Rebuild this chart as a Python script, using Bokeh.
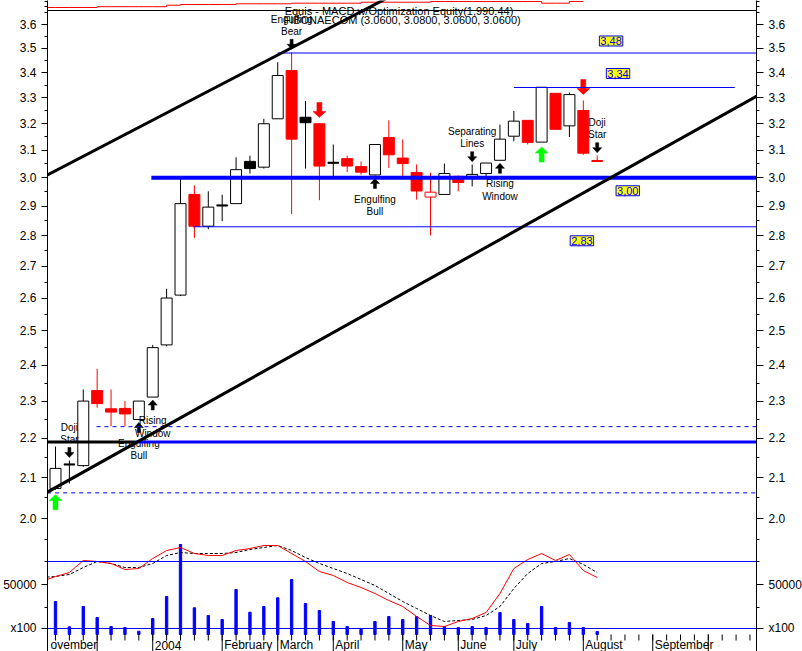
import math
from bokeh.plotting import figure
from bokeh.models import (Range1d, LinearScale, LogAxis, FixedTicker,
                          PrintfTickFormatter, Label, Span)
from bokeh.core.properties import value
from bokeh.embed import file_html
from bokeh.resources import INLINE

FONT = "Liberation Sans"
RED = "#FF0000"
BLUE = "#0000FF"
GREEN = "#00FF00"

# ---------------- weekly data (index 0 = first week shown, Nov 2003) ----------------
week = list(range(40))
opens  = [2.073, 2.133, 2.130, 2.329, 2.279, 2.280, 2.250, 2.311, 2.459, 2.609,
          2.941, 2.832, 2.903, 2.909, 3.059, 3.038, 3.218, 3.408, 3.224, 3.199,
          3.054, 3.069, 3.040, 3.010, 3.147, 3.071, 3.019, 2.932, 2.941, 3.005,
          3.005, 3.015, 3.063, 3.152, 3.212, 3.130, 3.317, 3.191, 3.250, 3.060]
highs  = [2.179, 2.143, 2.332, 2.390, 2.332, 2.300, 2.300, 2.459, 2.629, 3.000,
          2.973, 2.952, 2.940, 3.074, 3.080, 3.218, 3.442, 3.483, 3.287, 3.200,
          3.121, 3.080, 3.059, 3.121, 3.212, 3.140, 3.048, 3.018, 3.051, 3.008,
          3.047, 3.053, 3.196, 3.248, 3.212, 3.341, 3.317, 3.320, 3.289, 3.080]
lows   = [2.070, 2.085, 2.127, 2.282, 2.232, 2.232, 2.250, 2.311, 2.455, 2.606,
          2.793, 2.822, 2.849, 2.909, 3.015, 3.033, 3.218, 2.873, 3.033, 2.921,
          3.005, 3.020, 3.011, 3.008, 3.035, 3.005, 2.923, 2.801, 2.941, 2.952,
          2.969, 3.000, 3.063, 3.133, 3.121, 3.130, 3.178, 3.149, 3.083, 3.060]
closes = [2.123, 2.133, 2.300, 2.293, 2.270, 2.265, 2.300, 2.451, 2.600, 2.909,
          2.832, 2.897, 2.903, 3.029, 3.033, 3.199, 3.388, 3.141, 3.203, 3.042,
          3.054, 3.042, 3.020, 3.121, 3.083, 3.051, 2.953, 2.949, 3.015, 2.983,
          3.012, 3.053, 3.141, 3.209, 3.129, 3.341, 3.178, 3.312, 3.089, 3.060]
volume = [33000, 7700, 28000, 17000, 8000, 7000, 3300, 16000, 38000, 90000,
          26700, 19000, 15000, 45000, 22300, 28000, 36700, 55000, 31000, 24000,
          13000, 8000, 5300, 13000, 18000, 15000, 18000, 19000, 8000, 7000,
          8000, 7000, 22000, 15000, 11000, 28000, 7000, 12000, 7000, 3000]

macd_week = list(range(-1, 40))
macd_line = [0.053, 0.058, 0.062, 0.074, 0.073, 0.071, 0.065, 0.066, 0.076, 0.084,
             0.087, 0.081, 0.079, 0.079, 0.084, 0.086, 0.089, 0.089, 0.081, 0.073,
             0.063, 0.059, 0.052, 0.047, 0.041, 0.034, 0.028, 0.018, 0.009, 0.008,
             0.013, 0.016, 0.022, 0.041, 0.066, 0.075, 0.081, 0.074, 0.080, 0.064,
             0.057]
macd_signal = [0.057, 0.058, 0.060, 0.067, 0.073, 0.071, 0.067, 0.067, 0.071, 0.079,
               0.082, 0.081, 0.081, 0.081, 0.082, 0.085, 0.087, 0.089, 0.084, 0.077,
               0.071, 0.066, 0.061, 0.055, 0.049, 0.041, 0.033, 0.026, 0.019, 0.013,
               0.014, 0.015, 0.019, 0.028, 0.046, 0.061, 0.071, 0.073, 0.076, 0.070,
               0.062]
macd_levels = [0.073, 0.006]

equity_week = list(range(39))
equity = [1000, 1000, 1000, 1132, 1132, 1132, 1132, 1132, 1380, 1495,
          1495, 1495, 1495, 1610, 1610, 1610, 1610, 1710, 1710, 1710,
          1710, 1710, 1875, 1875, 1875, 1875, 1875, 1990.44, 1990.44, 1990.44,
          1990.44, 1990.44, 1990.44, 1990.44, 1990.44, 1710, 1710, 1990.44, 1990.44]

# ---------------- axis ticks / labels ----------------
month_ticks = [3, 7, 12, 16, 20, 25, 29, 33, 38, 43, 47]
week_ticks = [0, 1, 2, 3, 4, 5, 6, 7, 8, 9, 10, 11, 12, 13, 14, 15, 16, 17, 18, 19,
              20, 21, 22, 23, 24, 25, 26, 27, 28, 29, 30, 31, 32, 33, 34, 35, 36,
              37, 38, 39, 40, 41, 42, 43, 44, 45, 46, 47, 48, 49, 50]
month_label_pos = [-0.5, 7, 12, 16, 20, 25, 29, 33, 38, 43]
month_labels = ["ovember", "2004", "February", "March", "April", "May", "June",
                "July", "August", "September"]
price_ticks = [2.0, 2.1, 2.2, 2.3, 2.4, 2.5, 2.6, 2.7, 2.8, 2.9, 3.0, 3.1,
               3.2, 3.3, 3.4, 3.5, 3.6]
price_minor = [1.8, 1.9, 1.95, 2.05, 2.15, 2.25, 2.35, 2.45, 2.55, 2.65,
               2.75, 2.85, 2.95, 3.05, 3.15, 3.25, 3.35, 3.45, 3.55, 3.65, 3.68, 3.7]
vol_label_value = 50000
vol_unit_value = 6500

# ---------------- drawn studies ----------------
level_values = [3.48, 3.34, 3.00, 2.83, 2.231, 2.191, 2.191, 2.062]
level_start = [16.0, 33.0, 6.9, 9.9, 2.95, -0.6, 5.7, -0.6]
level_end = [50.6, 48.9, 50.6, 50.6, 50.6, 5.7, 50.6, 50.6]
level_color = [BLUE, BLUE, BLUE, BLUE, BLUE, "black", BLUE, BLUE]
level_width = [1, 1, 4, 1, 1, 3, 3, 1]
level_dash = ["solid", "solid", "solid", "solid", "4 4", "solid", "solid", "4 4"]

tag_text = ["3,48", "3,34", "3,00", "2,83"]
tag_level = [3.48, 3.34, 3.00, 2.83]
tag_week = [40.0, 40.5, 41.2, 37.9]
tag_shift = [12, 14, -13, -14]

trend_upper_x = [-0.58, 30.0]
trend_upper_y = [3.010, 3.916]
trend_lower_x = [-0.58, 50.6]
trend_lower_y = [2.064, 3.309]

sig_week = [0, 1, 6, 7, 17, 19, 23, 30, 32, 35, 38, 39]
sig_dir = ["up", "down", "up", "up", "down", "down", "up", "down", "up", "up", "down", "down"]
sig_kind = ["green", "black", "black", "black", "black", "red", "black", "black",
            "black", "green", "red", "black"]
sig_text = [[], ["Doji", "Star"], ["Engulfing", "Bull"], ["Rising", "Window"],
            ["Engulfing", "Bear"], [], ["Engulfing", "Bull"], ["Separating", "Lines"],
            ["Rising", "Window"], [], [], ["Doji", "Star"]]

title_1 = "Equis - MACD  w/Optimization Equity(1,990.44)"
title_2 = "FIBONAECOM (3.0600, 3.0800, 3.0600, 3.0600)"

# ---------------- geometry ----------------
FRAME_W, FRAME_H = 709, 651
X0, X1 = -0.576, 50.47
Y_BOT, Y_TOP = 1.7074, 3.7043          # price scale (log)
VOL_BOT, VOL_TOP = -17000, 634000      # volume scale, 0 at the panel base
MACD_BOT, MACD_TOP = -0.017, 0.634
EQ_BOT, EQ_TOP = -105260, 2155
PX_X = FRAME_W / (X1 - X0)
PX_DEC = FRAME_H / math.log10(Y_TOP / Y_BOT)
PX_VOL = FRAME_H / (VOL_TOP - VOL_BOT)


def shift(price, dpx):
    """price moved dpx screen pixels upward on the log scale"""
    return price * 10 ** (dpx / PX_DEC)


def dx(px):
    return px / PX_X


def price_at_vol(v):
    return shift(Y_BOT, (v - VOL_BOT) * PX_VOL)


vol_tick = price_at_vol(vol_label_value)
unit_tick = price_at_vol(vol_unit_value)

p = figure(frame_width=FRAME_W, frame_height=FRAME_H,
           x_range=Range1d(X0, X1), y_range=Range1d(Y_BOT, Y_TOP),
           y_axis_type="log", x_axis_location=None,
           output_backend="svg", toolbar_location=None,
           min_border_left=46, min_border_right=47, min_border_top=0,
           min_border_bottom=0, outline_line_color=None,
           background_fill_color="white", border_fill_color="white")
p.xgrid.visible = False
p.ygrid.visible = False

p.extra_y_ranges = {"vol": Range1d(VOL_BOT, VOL_TOP),
                    "macd": Range1d(MACD_BOT, MACD_TOP),
                    "eq": Range1d(EQ_BOT, EQ_TOP)}
p.extra_y_scales = {"vol": LinearScale(), "macd": LinearScale(), "eq": LinearScale()}


def style_price_axis(ax, tick_out):
    ax.ticker = FixedTicker(ticks=price_ticks + [vol_tick, unit_tick],
                            minor_ticks=price_minor)
    ax.formatter = PrintfTickFormatter(format="%.1f")
    ax.major_label_overrides = {vol_tick: "50000", unit_tick: "x100"}
    ax.axis_line_color = "black"
    ax.major_tick_line_color = "black"
    ax.minor_tick_line_color = "black"
    ax.major_tick_in = 0
    ax.major_tick_out = tick_out
    ax.minor_tick_in = 0
    ax.minor_tick_out = 3
    ax.major_label_standoff = 5
    ax.major_label_text_font = FONT
    ax.major_label_text_font_size = "12px"
    ax.major_label_text_color = "black"


style_price_axis(p.yaxis[0], 6)
right_axis = LogAxis()
style_price_axis(right_axis, 7)
p.add_layout(right_axis, "right")

# ---------------- equity strip (top) ----------------
p.step([X0] + equity_week, [equity[0]] + equity, mode="after", line_color=RED,
       line_width=1, y_range_name="eq")
p.add_layout(Span(location=shift(Y_TOP, -10), dimension="width", line_color="black",
                  line_width=1))

# ---------------- lower panel: volume + MACD ----------------
p.vbar(x=week, top=volume, bottom=0, width=0.17, fill_color=BLUE,
       line_color=BLUE, y_range_name="vol")
for lv in macd_levels:
    p.add_layout(Span(location=lv, dimension="width", y_range_name="macd",
                      line_color=BLUE, line_width=1))
p.line(macd_week, macd_signal, line_color="black", line_dash="3 2",
       line_width=1, y_range_name="macd")
p.line(macd_week, macd_line, line_color=RED, line_width=1, y_range_name="macd")

# ---------------- date band ----------------
p.segment(x0=week_ticks, y0=[0] * len(week_ticks), x1=week_ticks,
          y1=[-6000] * len(week_ticks), line_color="black", line_width=1,
          y_range_name="vol")
p.segment(x0=month_ticks, y0=[0] * len(month_ticks), x1=month_ticks,
          y1=[VOL_BOT] * len(month_ticks), line_color="black", line_width=1,
          y_range_name="vol")
p.text(x=month_label_pos, y=[-10500] * len(month_labels), text=month_labels,
       x_offset=2, text_font=value(FONT), text_font_size=value("12px"),
       text_align="left", text_baseline="middle", text_color="black",
       y_range_name="vol")

# ---------------- candles ----------------
cand_color, cand_fill, body_top, body_bot = [], [], [], []
for i in range(len(week)):
    c = RED if (i > 0 and closes[i] < closes[i - 1]) else "black"
    cand_color.append(c)
    cand_fill.append(c if closes[i] < opens[i] else "white")
    body_top.append(max(opens[i], closes[i]))
    body_bot.append(min(opens[i], closes[i]))

p.segment(x0=week, y0=lows, x1=week, y1=highs, line_color=cand_color, line_width=1)
p.vbar(x=week, width=0.79, top=body_top, bottom=body_bot, fill_color=cand_fill,
       line_color=cand_color, line_width=1)
doji = [i for i in range(len(week)) if opens[i] == closes[i]]
p.segment(x0=[week[i] - 0.395 for i in doji], y0=[opens[i] for i in doji],
          x1=[week[i] + 0.395 for i in doji], y1=[opens[i] for i in doji],
          line_color=[cand_color[i] for i in doji], line_width=2)

# ---------------- signal arrows and texts ----------------
arrow_style = {"black": dict(gap=3, L=10, ws=3, wh=9, hh=5, color="black"),
               "red": dict(gap=6, L=15, ws=5, wh=13, hh=6, color=RED),
               "green": dict(gap=5, L=15, ws=5, wh=13, hh=6, color=GREEN)}
ax_xs, ax_ys, ax_col = [], [], []
tx, ty, tt = [], [], []
for w, d, k, lines in zip(sig_week, sig_dir, sig_kind, sig_text):
    st = arrow_style[k]
    if d == "down":
        tip = shift(highs[w], st["gap"])
        s = 1
    else:
        tip = shift(lows[w], -st["gap"])
        s = -1
    pts = [(-st["ws"] / 2, st["L"]), (st["ws"] / 2, st["L"]), (st["ws"] / 2, st["hh"]),
           (st["wh"] / 2, st["hh"]), (0, 0), (-st["wh"] / 2, st["hh"]),
           (-st["ws"] / 2, st["hh"])]
    ax_xs.append([w + dx(a) for a, b in pts])
    ax_ys.append([shift(tip, s * b) for a, b in pts])
    ax_col.append(st["color"])
    if lines:
        if d == "down":
            offs = [st["L"] + 20, st["L"] + 8]
        else:
            offs = [-(st["L"] + 10.5), -(st["L"] + 23)]
        for line_txt, o in zip(lines, offs):
            tx.append(w)
            ty.append(shift(tip, o))
            tt.append(line_txt)

p.text(x=tx, y=ty, text=tt, text_font=value(FONT), text_font_size=value("10px"),
       text_align="center", text_baseline="middle", text_color="black")
p.patches(xs=ax_xs, ys=ax_ys, fill_color=ax_col, line_color=ax_col, line_width=0.5)

# ---------------- levels and trend lines ----------------
for v, x0, x1, c, lw, ld in zip(level_values, level_start, level_end, level_color,
                                level_width, level_dash):
    p.segment(x0=[x0], y0=[v], x1=[x1], y1=[v], line_color=c, line_width=lw,
              line_dash=ld)
p.line(trend_upper_x, trend_upper_y, line_color="black", line_width=3)
p.line(trend_lower_x, trend_lower_y, line_color="black", line_width=3)

for t, lv, w, sh in zip(tag_text, tag_level, tag_week, tag_shift):
    p.add_layout(Label(x=w, y=shift(lv, sh), text=t, text_align="center",
                       text_baseline="middle", text_font=FONT, text_font_size="11px",
                       text_color=BLUE, background_fill_color="yellow",
                       border_line_color=BLUE, border_line_width=1, padding=1))

# ---------------- titles ----------------
p.add_layout(Label(x=24.84, y=shift(Y_TOP, -10), text=title_1, text_align="center",
                   text_baseline="middle", text_font=FONT, text_font_size="11px",
                   text_color="black"))
p.add_layout(Label(x=24.95, y=shift(Y_TOP, -19.3), text=title_2, text_align="center",
                   text_baseline="middle", text_font=FONT, text_font_size="11px",
                   text_color="black"))

open("out.html", "w").write(file_html(p, INLINE))
